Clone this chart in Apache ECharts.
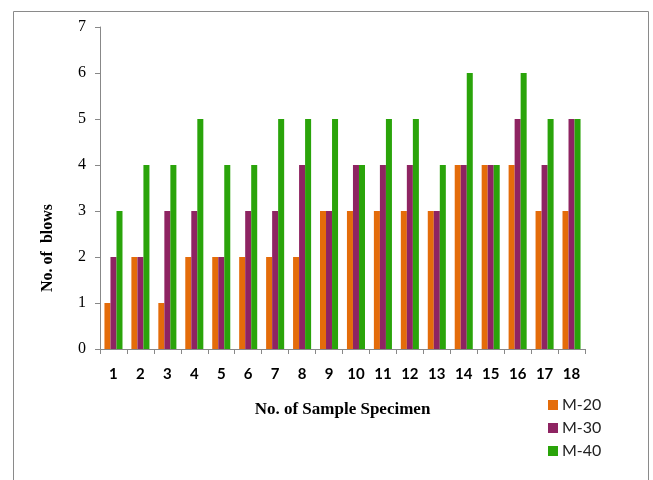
<!DOCTYPE html>
<html>
<head>
<meta charset="utf-8">
<script src="https://cdn.jsdelivr.net/npm/echarts@6/dist/echarts.min.js"></script>
<style>html,body{margin:0;padding:0;background:#fff;}#c{width:653px;height:480px;}</style>
</head>
<body>
<div id="c"></div>
<script>
var categories = ['1','2','3','4','5','6','7','8','9','10','11','12','13','14','15','16','17','18'];
var m20 = [1,2,1,2,2,2,2,2,3,3,3,3,3,4,4,4,3,3];
var m30 = [2,2,3,3,2,3,3,4,3,4,4,4,3,4,4,5,4,5];
var m40 = [3,4,4,5,4,4,5,5,5,4,5,5,4,6,4,6,5,5];
var yTicks = [0,1,2,3,4,5,6,7];

var chart = echarts.init(document.getElementById('c'));
chart.setOption({
  animation: false,
  backgroundColor: '#fff',
  grid: {left: 100, right: 68, top: 27, bottom: 131, containLabel: false},
  graphic: [
    {type: 'rect', shape: {x: 13.5, y: 11.5, width: 635, height: 480}, style: {fill: 'none', stroke: '#8a8a8a', lineWidth: 1}, silent: true},
    {type: 'text', x: 48, y: 248, rotation: Math.PI / 2, style: {text: 'No. of  blows', font: 'bold 16px "Liberation Serif", serif', fill: '#000', align: 'center', verticalAlign: 'middle'}, silent: true}
  ],
  legend: {
    orient: 'vertical', left: 548, top: 397, height: 80, padding: 0,
    itemWidth: 10, itemHeight: 10, itemGap: 7,
    icon: 'rect',
    textStyle: {fontFamily: 'Lato', fontSize: 16, color: '#222', lineHeight: 16, padding: [0, 0, 0, -1]},
    data: ['M-20', 'M-30', 'M-40']
  },
  xAxis: {
    type: 'category',
    data: categories,
    name: 'No. of Sample Specimen',
    nameLocation: 'middle',
    nameGap: 52,
    nameTextStyle: {fontFamily: '"Liberation Serif", serif', fontWeight: 'bold', fontSize: 17, color: '#000'},
    axisLine: {lineStyle: {color: '#888'}},
    axisTick: {show: true, length: 5, lineStyle: {color: '#888'}},
    axisLabel: {margin: 18, fontFamily: 'Lato', fontWeight: 'bold', fontSize: 15, color: '#000'}
  },
  yAxis: {
    type: 'value',
    min: 0, max: 7, interval: 1,
    axisLine: {show: true, lineStyle: {color: '#888'}},
    axisTick: {show: true, length: 5, lineStyle: {color: '#888'}},
    splitLine: {show: false},
    axisLabel: {margin: 14, fontFamily: '"Liberation Serif", serif', fontSize: 16, color: '#000',
      formatter: function (v) { return yTicks.indexOf(v) >= 0 ? String(v) : ''; }}
  },
  series: [
    {name: 'M-20', type: 'bar', data: m20, barGap: '0%', barCategoryGap: '33%', itemStyle: {color: '#E46C0A'}},
    {name: 'M-30', type: 'bar', data: m30, barGap: '0%', barCategoryGap: '33%', itemStyle: {color: '#8E2462'}},
    {name: 'M-40', type: 'bar', data: m40, barGap: '0%', barCategoryGap: '33%', itemStyle: {color: '#2AA40A'}}
  ]
});
</script>
</body>
</html>
